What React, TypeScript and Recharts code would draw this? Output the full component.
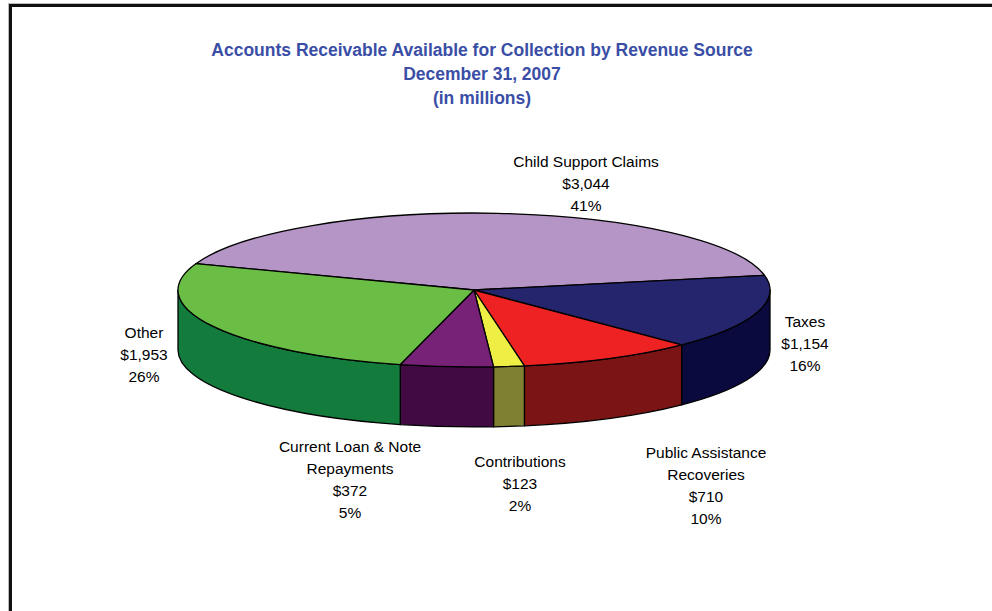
import React from "react";
import { PieChart, Pie, Cell } from "recharts";

const categories = [
  "Child Support Claims",
  "Taxes",
  "Public Assistance Recoveries",
  "Contributions",
  "Current Loan & Note Repayments",
  "Other",
];
const amounts = [3044, 1154, 710, 123, 372, 1953];
const percents = [41, 16, 10, 2, 5, 26];

const topColors = ["#B595C6", "#25256E", "#EE2222", "#EEEE44", "#772277", "#6BBE45"];
const sideColors = ["#7E6290", "#0A0A3E", "#7B1414", "#808033", "#420A42", "#137B3C"];

// label anchor (centre x, first baseline) relative to the pie centre
const labelOffsets: [number, number][] = [
  [112, -123],
  [331, 37],
  [232, 168],
  [46, 177],
  [-124, 162],
  [-330, 48],
];

const data = categories.map((name, i) => ({ name, value: amounts[i] }));

const TILT = 0.26;
const DEPTH = 60;
const RAD = Math.PI / 180;

const pt = (cx: number, cy: number, rx: number, ry: number, a: number) => [
  cx + rx * Math.cos(a * RAD),
  cy - ry * Math.sin(a * RAD),
];

const TopFace = (props: any) => {
  const { cx, cy, outerRadius, startAngle, endAngle, fill } = props;
  const rx = outerRadius;
  const ry = outerRadius * TILT;
  const [x1, y1] = pt(cx, cy, rx, ry, startAngle);
  const [x2, y2] = pt(cx, cy, rx, ry, endAngle);
  const span = Math.abs(startAngle - endAngle);
  const sweep = startAngle > endAngle ? 1 : 0;
  const d = `M${cx},${cy} L${x1},${y1} A${rx},${ry} 0 ${span > 180 ? 1 : 0} ${sweep} ${x2},${y2} Z`;
  return <path d={d} fill={fill} stroke="#000" strokeWidth={1.3} strokeLinejoin="round" />;
};

const SideWall = (props: any) => {
  const { cx, cy, outerRadius, startAngle, endAngle, fill } = props;
  const rx = outerRadius;
  const ry = outerRadius * TILT;
  const lo = Math.min(startAngle, endAngle);
  const hi = Math.max(startAngle, endAngle);
  const parts: string[] = [];
  for (const k of [-1, 0, 1]) {
    const a1 = Math.max(lo, -180 + 360 * k);
    const a2 = Math.min(hi, 360 * k);
    if (a2 - a1 <= 0.01) continue;
    const [x1, y1] = pt(cx, cy, rx, ry, a1);
    const [x2, y2] = pt(cx, cy, rx, ry, a2);
    parts.push(
      `M${x1},${y1} A${rx},${ry} 0 0 0 ${x2},${y2} L${x2},${y2 + DEPTH} A${rx},${ry} 0 0 1 ${x1},${y1 + DEPTH} Z`
    );
  }
  if (!parts.length) return <g />;
  return <path d={parts.join(" ")} fill={fill} stroke="#000" strokeWidth={1.3} strokeLinejoin="round" />;
};

const wrap = (s: string, max = 20) => {
  const words = s.split(" ");
  const lines: string[] = [];
  let cur = "";
  words.forEach((w) => {
    const next = cur ? cur + " " + w : w;
    if (next.length > max && cur) {
      lines.push(cur);
      cur = w;
    } else cur = next;
  });
  if (cur) lines.push(cur);
  return lines;
};

const renderLabel = (props: any) => {
  const { cx, cy, index } = props;
  const [dx, dy] = labelOffsets[index];
  const lines = [
    ...wrap(categories[index]),
    "$" + amounts[index].toLocaleString("en-US"),
    percents[index] + "%",
  ];
  return (
    <text
      x={cx + dx}
      y={cy + dy}
      textAnchor="middle"
      fill="#000"
      style={{ fontFamily: "Arial, 'Liberation Sans', sans-serif", fontSize: 15.5 }}
    >
      {lines.map((l, i) => (
        <tspan key={i} x={cx + dx} dy={i === 0 ? 0 : 22}>
          {l}
        </tspan>
      ))}
    </text>
  );
};

const App = () => {
  return (
    <div style={{ position: "absolute", left: 0, top: 0, width: 992, height: 611, background: "#fff", overflow: "hidden" }}>
      <div
        style={{
          position: "absolute",
          left: 9,
          top: 4,
          width: 1100,
          height: 800,
          borderLeft: "3px solid #111",
          borderTop: "3px solid #111",
          boxShadow: "-1px -1px 0 #bbb",
        }}
      />
      <div
        style={{
          position: "absolute",
          left: 0,
          top: 38,
          width: 964,
          textAlign: "center",
          fontFamily: "Arial, 'Liberation Sans', sans-serif",
          fontWeight: "bold",
          fontSize: 17.5,
          lineHeight: "24px",
          color: "#3A4EA6",
        }}
      >
        <div>Accounts Receivable Available for Collection by Revenue Source</div>
        <div>December 31, 2007</div>
        <div>(in millions)</div>
      </div>
      <div style={{ position: "absolute", left: 0, top: 0 }}>
        <PieChart width={992} height={611} margin={{ top: 0, right: 0, bottom: 0, left: 0 }}>
          <Pie
            data={data}
            dataKey="value"
            cx={474}
            cy={290}
            outerRadius={296}
            startAngle={160}
            endAngle={-200}
            shape={SideWall}
            isAnimationActive={false}
          >
            {data.map((_, i) => (
              <Cell key={i} fill={sideColors[i]} />
            ))}
          </Pie>
          <Pie
            data={data}
            dataKey="value"
            cx={474}
            cy={290}
            outerRadius={296}
            startAngle={160}
            endAngle={-200}
            shape={TopFace}
            label={renderLabel}
            labelLine={false}
            isAnimationActive={false}
          >
            {data.map((_, i) => (
              <Cell key={i} fill={topColors[i]} />
            ))}
          </Pie>
        </PieChart>
      </div>
    </div>
  );
};

export default App;
